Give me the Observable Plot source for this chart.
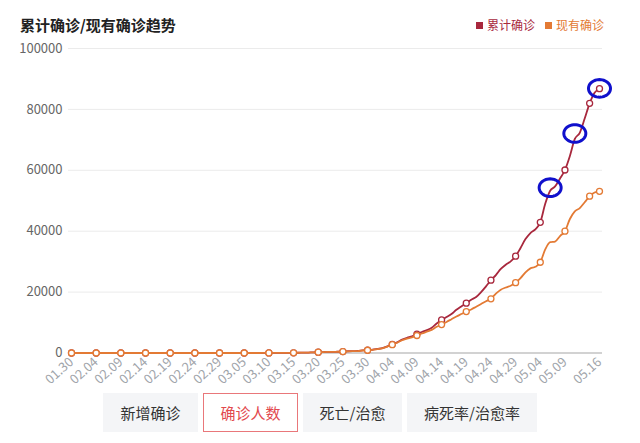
<!DOCTYPE html>
<html><head><meta charset="utf-8">
<script src="https://cdn.jsdelivr.net/npm/d3@7"></script>
<script src="https://cdn.jsdelivr.net/npm/@observablehq/plot@0.6"></script>
<style>
body{margin:0;background:#fff;font-family:"Noto Sans CJK SC","Noto Sans",sans-serif;}
#wrap{position:relative;width:640px;height:443px;overflow:hidden;background:#fff;}
#title{position:absolute;left:20px;top:15px;font-size:15px;font-weight:bold;color:#222;line-height:20px;z-index:2;}
#legend{position:absolute;left:476px;top:16px;font-size:12px;line-height:18px;display:flex;gap:10px;z-index:2;}
#legend span.sw{display:inline-block;width:7px;height:7px;margin-right:4px;vertical-align:1px;}
#chart{position:absolute;left:0;top:0;}
#tabs{position:absolute;top:393px;left:103px;display:flex;gap:5px;z-index:2;}
.tab{height:39px;line-height:39px;text-align:center;background:#f4f5f7;color:#333;font-size:15px;box-sizing:border-box;}
.tab.sel{background:#fff;border:1px solid #e9777a;color:#e2494e;line-height:37px;}
</style></head>
<body><div id="wrap">
<div id="chart"></div>
<div id="title">累计确诊/现有确诊趋势</div>
<div id="legend"></div>
<div id="tabs"></div>
</div>
<script>
// ---- data ----
const seriesNames = ["累计确诊", "现有确诊"];
const seriesColors = ["#a8283d", "#e37a34"];
const startLabel = "01.30", endLabel = "05.16";
// daily values 01.30 .. 05.16
const cumulative = [
  0,0,0,0,0,0,0,0,0,0, 0,0,0,0,0,0,0,0,0,0, 0,0,0,0,0,0,0,0,0,0, 0,0,0,0,0,0,
  1,6,7,9,11,17,22,38,43,71,86,117,145,234,263,318,363,395,416,480,580,635,671,852,950,1065,
  1323,1595,2200,2850,3500,4400,5000,5450,6200,6900,7500,8300,9700,10850,11800,12800,14200,15300,16350,
  17500,18400,20000,21900,23900,25600,27600,29000,30100,31800,34500,
  37400,39400,40600,42900,49000,53300,54700,57300,60100,64700,70300,72300,77000,82000,85500,86800
];
const active = [
  0,0,0,0,0,0,0,0,0,0, 0,0,0,0,0,0,0,0,0,0, 0,0,0,0,0,0,0,0,0,0, 0,0,0,0,0,0,
  1,6,7,9,11,17,22,38,43,71,86,117,145,234,260,312,355,385,405,465,560,610,640,815,905,1010,
  1260,1530,2120,2750,3380,4200,4700,5100,5750,6400,7000,7600,8600,9350,10200,11100,12000,12800,13600,
  14300,15200,16100,17000,17800,19500,20800,21500,22100,23100,24600,
  26500,27800,28300,29800,34000,36400,36600,38400,40000,44000,46500,47600,49500,51500,52700,53100
];
const tickLabels = ["01.30","02.04","02.09","02.14","02.19","02.24","02.29","03.05","03.10","03.15","03.20",
  "03.25","03.30","04.04","04.09","04.14","04.19","04.24","04.29","05.04","05.09","05.16"];
const markerLabels = [...tickLabels, "05.14"];
const yTicks = [0, 20000, 40000, 60000, 80000, 100000];
const circledLabels = ["05.06", "05.11", "05.16"];
const circledValues = [54300, 72100, 86900];
const tabNames = ["新增确诊", "确诊人数", "死亡/治愈", "病死率/治愈率"];
const tabWidths = [95, 95, 99, 130];
const selectedTab = 1;

// ---- build ----
const parse = s => new Date(Date.UTC(2020, +s.slice(0,2) - 1, +s.slice(3)));
const days = d3.utcDay.range(parse(startLabel), d3.utcDay.offset(parse(endLabel), 1));
const rows = days.map((d, i) => ({date: d, cum: cumulative[i], act: active[i]}));
const markerSet = new Set(markerLabels.map(s => +parse(s)));
const markerRows = rows.filter(r => markerSet.has(+r.date));
const circled = circledLabels.map((s, i) => ({date: parse(s), value: circledValues[i]}));
const ellipse = {draw(ctx, size) {
  const r = Math.sqrt(size / Math.PI), n = 48;
  for (let i = 0; i <= n; i++) {
    const a = 2 * Math.PI * i / n, x = r * Math.cos(a), y = r * 0.8 * Math.sin(a);
    i ? ctx.lineTo(x, y) : ctx.moveTo(x, y);
  }
  ctx.closePath();
}};

const chart = Plot.plot({
  width: 640, height: 392,
  marginTop: 48, marginBottom: 39.5, marginLeft: 68, marginRight: 38,
  x: {type: "utc", domain: [parse(startLabel), parse(endLabel)], inset: 3},
  y: {domain: [0, 100000]},
  style: {fontFamily: '"Noto Sans CJK SC","Noto Sans",sans-serif', background: "#fff"},
  marks: [
    Plot.gridY(yTicks, {stroke: "#ebebeb", strokeOpacity: 1}),
    Plot.ruleY([0], {stroke: "#c6c6c6", strokeWidth: 1.5}),
    Plot.axisY(yTicks, {tickSize: 0, tickPadding: 6, tickFormat: d => String(d), fontSize: 13, fill: "#666", label: null}),
    Plot.axisX(tickLabels.map(parse), {tickSize: 0, tickPadding: 7, tickRotate: -42, tickFormat: d3.utcFormat("%m.%d"), fontSize: 13, fill: "#a0a4aa", label: null}),
    Plot.lineY(rows, {x: "date", y: "cum", stroke: seriesColors[0], strokeWidth: 1.8, curve: "monotone-x"}),
    Plot.dot(markerRows, {x: "date", y: "cum", r: 3, fill: "#fff", stroke: seriesColors[0], strokeWidth: 1.3}),
    Plot.lineY(rows, {x: "date", y: "act", stroke: seriesColors[1], strokeWidth: 1.8, curve: "monotone-x"}),
    Plot.dot(markerRows, {x: "date", y: "act", r: 3, fill: "#fff", stroke: seriesColors[1], strokeWidth: 1.3}),
    Plot.dot(circled, {x: "date", y: "value", r: 11, symbol: ellipse, fill: "none", stroke: "#1010cc", strokeWidth: 3})
  ]
});
document.getElementById("chart").append(chart);

const legend = document.getElementById("legend");
seriesNames.forEach((n, i) => {
  const it = document.createElement("div");
  it.innerHTML = `<span class="sw" style="background:${seriesColors[i]}"></span><span style="color:${seriesColors[i]}">${n}</span>`;
  legend.append(it);
});
const tabs = document.getElementById("tabs");
tabNames.forEach((n, i) => {
  const t = document.createElement("div");
  t.className = "tab" + (i === selectedTab ? " sel" : "");
  t.style.width = tabWidths[i] + "px";
  t.textContent = n;
  tabs.append(t);
});
</script>
</body></html>
